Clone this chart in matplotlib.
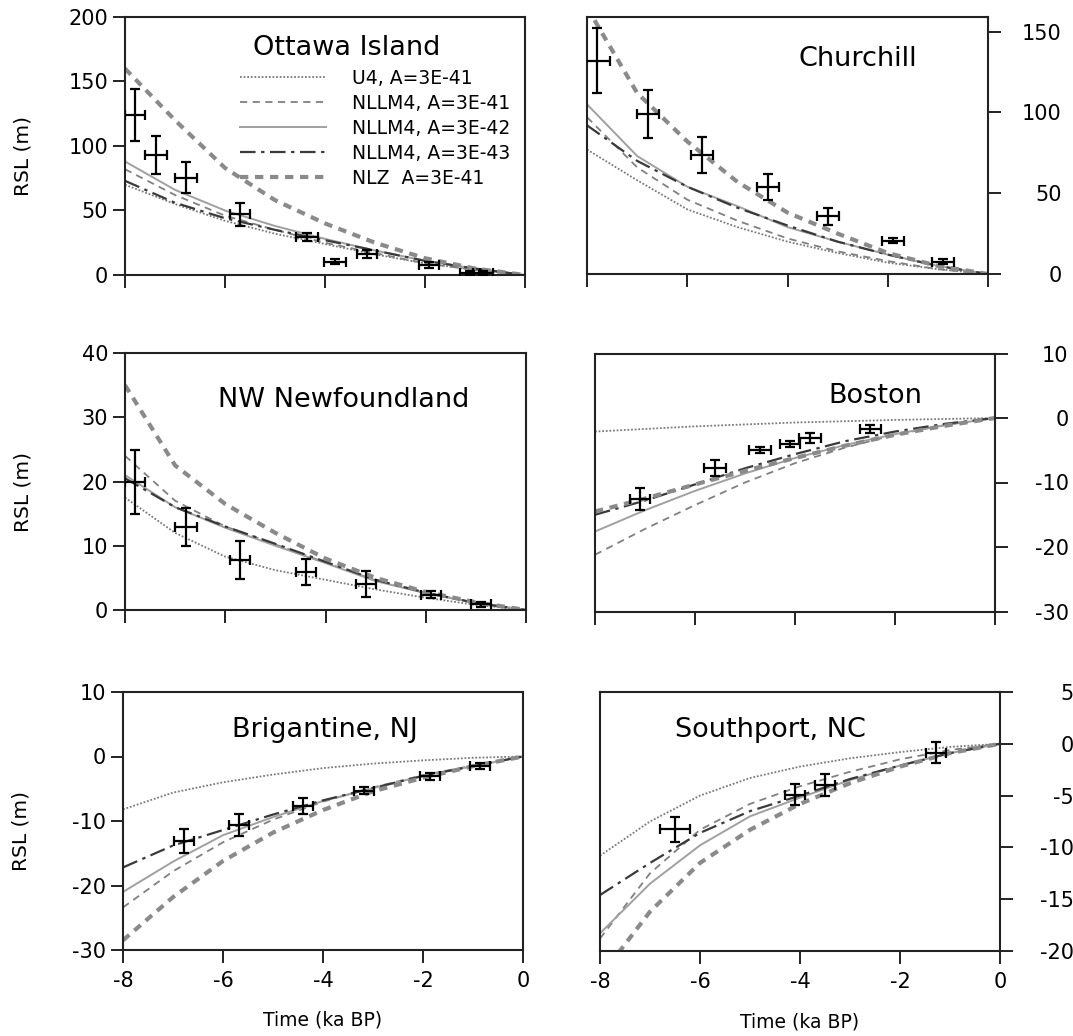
import matplotlib
matplotlib.use("Agg")
import matplotlib.pyplot as plt

# ---------------- data ----------------
t_model = [-8, -7, -6, -5, -4, -3, -2, -1, 0]
model_labels = ["U4, A=3E-41", "NLLM4, A=3E-41", "NLLM4, A=3E-42", "NLLM4, A=3E-43", "NLZ  A=3E-41"]

# Ottawa Island
ott_u4     = [70, 55, 42, 32, 24, 16, 9, 4, 0]
ott_nl41   = [82, 62, 46, 35, 25, 17, 9, 4, 0]
ott_nl42   = [88, 66, 50, 38, 28, 19, 11, 5, 0]
ott_nl43   = [73, 56, 44, 35, 27, 19, 11, 5, 0]
ott_nlz    = [160, 120, 83, 58, 40, 25, 13, 5, 0]
ott_t      = [-7.8, -7.38, -6.79, -5.7, -4.37, -3.8, -3.17, -1.93, -1.1, -0.85]
ott_rsl    = [124, 93, 75.5, 47, 29.7, 10.3, 16, 7.7, 1.5, 1.5]
ott_terr   = [0.2, 0.22, 0.22, 0.2, 0.22, 0.22, 0.2, 0.2, 0.2, 0.2]
ott_rerr   = [20, 14.5, 12, 9, 3, 2, 3, 2, 1.5, 1.5]

# Churchill
chu_u4     = [77, 58, 40, 29, 20, 13, 7, 3, 0]
chu_nl41   = [97, 66, 46, 33, 22, 14, 8, 3, 0]
chu_nl42   = [105, 73, 54, 42, 29, 20, 12, 5, 0]
chu_nl43   = [92, 70, 54, 41, 30, 20, 12, 5, 0]
chu_nlz    = [165, 112, 82, 57, 38, 25, 13, 5, 0]
chu_t      = [-7.8, -6.79, -5.71, -4.39, -3.19, -1.89, -0.89]
chu_rsl    = [132, 99, 73.7, 53.6, 35.6, 20.5, 7.5]
chu_terr   = [0.25, 0.22, 0.22, 0.22, 0.22, 0.22, 0.22]
chu_rerr   = [20, 15, 11, 8, 5.5, 1.5, 1.5]

# NW Newfoundland
nwn_u4     = [17.5, 12, 8.3, 6.2, 4.7, 3.2, 1.9, 0.8, 0]
nwn_nl41   = [24, 17, 13, 10.2, 7.4, 4.6, 2.7, 1.1, 0]
nwn_nl42   = [21, 16, 12.8, 10, 7.3, 4.5, 2.6, 1.1, 0]
nwn_nl43   = [20.5, 16, 13, 10.3, 7.5, 4.7, 2.7, 1.1, 0]
nwn_nlz    = [35, 22.5, 16.5, 12, 8, 5, 2.8, 1.2, 0]
nwn_t      = [-7.8, -6.79, -5.7, -4.39, -3.19, -1.9, -0.9]
nwn_rsl    = [19.9, 12.9, 7.8, 5.9, 4.0, 2.4, 0.9]
nwn_terr   = [0.2, 0.22, 0.2, 0.2, 0.2, 0.2, 0.2]
nwn_rerr   = [5, 3, 3, 2, 2, 0.5, 0.4]

# Boston
bos_u4     = [-2.1, -1.7, -1.3, -1.0, -0.7, -0.5, -0.3, -0.15, 0]
bos_nl41   = [-21.2, -17.2, -13.5, -10, -7, -4.6, -2.6, -1.1, 0]
bos_nl42   = [-17.6, -14.3, -11.3, -8.6, -6.2, -4.2, -2.5, -1.1, 0]
bos_nl43   = [-15, -12.8, -10.3, -7.8, -5.6, -3.6, -2.1, -0.9, 0]
bos_nlz    = [-14.5, -12.5, -10.3, -8.2, -6.2, -4.3, -2.6, -1.2, 0]
bos_t      = [-7.11, -5.6, -4.7, -4.11, -3.7, -2.5]
bos_rsl    = [-12.5, -7.75, -4.96, -4.0, -3.1, -1.66]
bos_terr   = [0.2, 0.22, 0.22, 0.2, 0.22, 0.21]
bos_rerr   = [1.7, 1.3, 0.5, 0.5, 0.7, 0.6]

# Brigantine, NJ
bri_u4     = [-8.2, -5.6, -4.0, -2.8, -1.8, -1.1, -0.6, -0.2, 0]
bri_nl41   = [-23.4, -17.8, -13.3, -9.8, -7.0, -4.8, -2.9, -1.4, 0]
bri_nl42   = [-21, -16.3, -12.2, -9.4, -6.9, -4.9, -3.0, -1.5, 0]
bri_nl43   = [-17.2, -13.8, -11.4, -9.0, -6.8, -4.9, -3.0, -1.5, 0]
bri_nlz    = [-28.5, -21.8, -16.2, -11.8, -8.3, -5.4, -3.3, -1.5, 0]
bri_t      = [-6.79, -5.69, -4.4, -3.19, -1.87, -0.87]
bri_rsl    = [-13.1, -10.6, -7.65, -5.3, -3.1, -1.45]
bri_terr   = [0.2, 0.2, 0.2, 0.2, 0.2, 0.2]
bri_rerr   = [1.9, 1.7, 1.2, 0.5, 0.5, 0.5]

# Southport, NC
sou_u4     = [-10.8, -7.5, -5.0, -3.3, -2.2, -1.4, -0.8, -0.3, 0]
sou_nl41   = [-18.8, -12.5, -8.3, -5.8, -4.1, -2.7, -1.5, -0.6, 0]
sou_nl42   = [-18.3, -13.5, -9.8, -7.0, -5.2, -3.5, -2.1, -0.9, 0]
sou_nl43   = [-14.6, -11.5, -8.6, -6.5, -5.0, -3.4, -2.1, -0.9, 0]
sou_nlz    = [-22.5, -16.2, -11.5, -8.3, -5.8, -3.8, -2.2, -0.9, 0]
sou_t      = [-6.5, -4.1, -3.5, -1.29]
sou_rsl    = [-8.25, -4.9, -3.95, -0.87]
sou_terr   = [0.3, 0.2, 0.2, 0.2]
sou_rerr   = [1.2, 1.0, 1.05, 1.0]

# ---------------- styles ----------------
styles = [
    dict(color="#7a7a7a", lw=1.3, ls=(0, (1, 1))),
    dict(color="#808080", lw=1.3, ls=(0, (4, 3))),
    dict(color="#a0a0a0", lw=1.4, ls="-"),
    dict(color="#3a3a3a", lw=1.6, ls=(0, (7, 2.5, 1.5, 2.5))),
    dict(color="#8a8a8a", lw=3.0, ls=(0, (2, 1.6))),
]

plt.rcParams["font.family"] = ["DejaVu Sans"]
plt.rcParams["axes.unicode_minus"] = False

W, H = 1073, 1036
fig = plt.figure(figsize=(W / 100, H / 100), dpi=100)


def make_ax(left, right, top, bottom):
    return fig.add_axes([left / W, 1 - bottom / H, (right - left) / W, (bottom - top) / H])


panels = [
    ("Ottawa Island", (125, 525, 17, 275), [ott_u4, ott_nl41, ott_nl42, ott_nl43, ott_nlz],
     (ott_t, ott_rsl, ott_terr, ott_rerr), (0, 200), [0, 50, 100, 150, 200], "left", (0.555, 0.88), False),
    ("Churchill", (587, 988, 17, 274), [chu_u4, chu_nl41, chu_nl42, chu_nl43, chu_nlz],
     (chu_t, chu_rsl, chu_terr, chu_rerr), (0, 159), [0, 50, 100, 150], "right", (0.675, 0.837), False),
    ("NW Newfoundland", (125, 526, 353, 610), [nwn_u4, nwn_nl41, nwn_nl42, nwn_nl43, nwn_nlz],
     (nwn_t, nwn_rsl, nwn_terr, nwn_rerr), (0, 40), [0, 10, 20, 30, 40], "left", (0.545, 0.817), False),
    ("Boston", (595, 995, 353.5, 611.5), [bos_u4, bos_nl41, bos_nl42, bos_nl43, bos_nlz],
     (bos_t, bos_rsl, bos_terr, bos_rerr), (-30, 10), [-30, -20, -10, 0, 10], "right", (0.70, 0.837), False),
    ("Brigantine, NJ", (123, 523, 692, 950), [bri_u4, bri_nl41, bri_nl42, bri_nl43, bri_nlz],
     (bri_t, bri_rsl, bri_terr, bri_rerr), (-30, 10), [-30, -20, -10, 0, 10], "left", (0.505, 0.853), True),
    ("Southport, NC", (600, 1000, 692, 951), [sou_u4, sou_nl41, sou_nl42, sou_nl43, sou_nlz],
     (sou_t, sou_rsl, sou_terr, sou_rerr), (-20, 5), [-20, -15, -10, -5, 0, 5], "right", (0.425, 0.853), True),
]

for i, (name, box, curves, pts, ylim, yticks, side, tpos, bottom) in enumerate(panels):
    ax = make_ax(*box)
    for j, (c, st) in enumerate(zip(curves, styles)):
        ax.plot(t_model, c, color=st["color"], lw=st["lw"], linestyle=st["ls"],
                label=model_labels[j], zorder=2)
    tt, rr, te, re = pts
    ax.errorbar(tt, rr, xerr=te, yerr=re, fmt="none", ecolor="black", elinewidth=1.6,
                capsize=3.5, capthick=1.6, zorder=4)
    ax.set_xlim(-8, 0)
    ax.set_ylim(*ylim)
    ax.set_xticks([-8, -6, -4, -2, 0])
    ax.set_yticks(yticks)
    for sp in ax.spines.values():
        sp.set_linewidth(1.5)
        sp.set_color("#222222")
    ax.tick_params(axis="both", direction="out", length=9, width=1.4, labelsize=15,
                   color="#222222", pad=4)
    if side == "right":
        ax.yaxis.tick_right()
        ax.tick_params(axis="y", pad=44)
        for lab in ax.get_yticklabels():
            lab.set_horizontalalignment("right")
    else:
        ax.tick_params(axis="y", pad=3)
        ax.set_ylabel("RSL (m)", fontsize=14.5)
        ax.yaxis.set_label_coords(-0.23, 0.46)
    if bottom:
        ax.set_xlabel("Time (ka BP)", fontsize=13.5)
        ax.xaxis.set_label_coords(0.5, -0.236)
        ax.tick_params(axis="x", pad=6)
    else:
        ax.set_xticklabels([])
    ax.text(tpos[0], tpos[1], name, transform=ax.transAxes, ha="center", va="center",
            fontsize=19.5)
    if i == 0:
        ax.legend(loc="upper left", bbox_to_anchor=(0.2875, 0.80), frameon=False,
                  fontsize=13.5, handlelength=4.6, handletextpad=1.4,
                  labelspacing=0.32, borderaxespad=0, borderpad=0)

fig.savefig("out.png", dpi=100)
